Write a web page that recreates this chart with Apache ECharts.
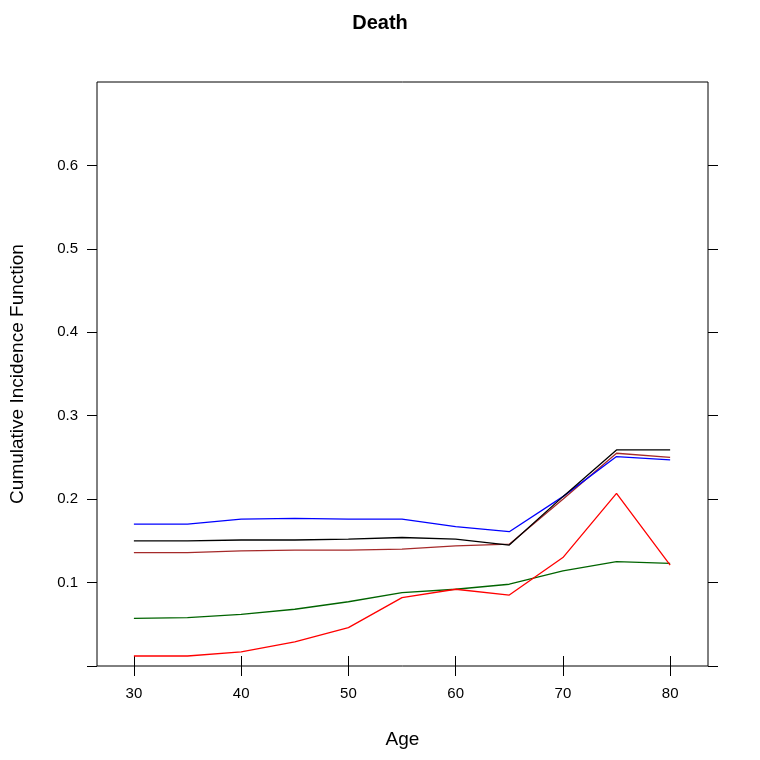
<!DOCTYPE html>
<html><head><meta charset="utf-8">
<script src="https://cdn.jsdelivr.net/npm/echarts@6/dist/echarts.min.js"></script>
<style>html,body{margin:0;padding:0;background:#fff}#c{width:760px;height:760px}</style>
</head><body><div id="c"></div>
<script>
const ages = [30,35,40,45,50,55,60,65,70,75,80];
const black = [0.150,0.150,0.151,0.151,0.152,0.154,0.152,0.145,0.203,0.259,0.259];
const blue = [0.170,0.170,0.176,0.177,0.176,0.176,0.167,0.161,0.203,0.251,0.247];
const brown = [0.136,0.136,0.138,0.139,0.139,0.140,0.144,0.146,0.200,0.255,0.250];
const green = [0.057,0.058,0.062,0.068,0.077,0.088,0.092,0.098,0.114,0.125,0.123];
const red = [0.012,0.012,0.017,0.029,0.046,0.082,0.092,0.085,0.130,0.207,0.121];
const xTicks = [30,40,50,60,70,80];
const yTicks = [0.1,0.2,0.3,0.4,0.5,0.6];
const yTickLabels = ['0.1','0.2','0.3','0.4','0.5','0.6'];

const font = 'Liberation Sans, Arial, sans-serif';
const chart = echarts.init(document.getElementById('c'));
const mk = (arr, color) => ({type:'line', data: ages.map((a,i)=>[a,arr[i]]), symbol:'none',
  lineStyle:{color, width:1.3}, itemStyle:{color}, animation:false, xAxisIndex:0, yAxisIndex:0});
const tick = vals => ({show:true, length:10, customValues: vals, lineStyle:{color:'#000'}});
const xBase = {type:'value', min:26.56, max:83.53, splitLine:{show:false}, axisLine:{show:false}, axisTick: tick(xTicks)};
const yBase = {type:'value', min:0, max:0.7, splitLine:{show:false}, axisLine:{show:false}};
chart.setOption({
  animation:false,
  title:{text:'Death', left:'center', top:8, textStyle:{fontFamily:font, fontSize:20, fontWeight:'bold', color:'#000'}},
  grid:{left:95, right:52, top:82, bottom:94, show:true, borderColor:'#000', borderWidth:1},
  xAxis:[
    Object.assign({}, xBase, {position:'bottom', name:'Age', nameLocation:'middle', nameGap:64,
      nameTextStyle:{fontFamily:font, fontSize:19, color:'#000'},
      axisLabel:{show:true, customValues:xTicks, margin:20, fontFamily:font, fontSize:15, color:'#000'}}),
    Object.assign({}, xBase, {position:'top', axisLabel:{show:false}})
  ],
  yAxis:[
    Object.assign({}, yBase, {position:'left', name:'Cumulative Incidence Function', nameLocation:'middle', nameGap:70,
      nameTextStyle:{fontFamily:font, fontSize:19, color:'#000'},
      axisTick: tick([0,0.1,0.2,0.3,0.4,0.5,0.6]),
      axisLabel:{show:true, customValues:yTicks, margin:19, fontFamily:font, fontSize:15, color:'#000',
        formatter:v=>yTickLabels[Math.round(v*10)-1]}}),
    Object.assign({}, yBase, {position:'right', axisTick: tick([0,0.1,0.2,0.3,0.4,0.5,0.6]), axisLabel:{show:false}})
  ],
  series:[mk(green,'#006400'), mk(red,'#ff0000'), mk(brown,'#a52a2a'), mk(blue,'#0000ff'), mk(black,'#000000')]
});
</script></body></html>
